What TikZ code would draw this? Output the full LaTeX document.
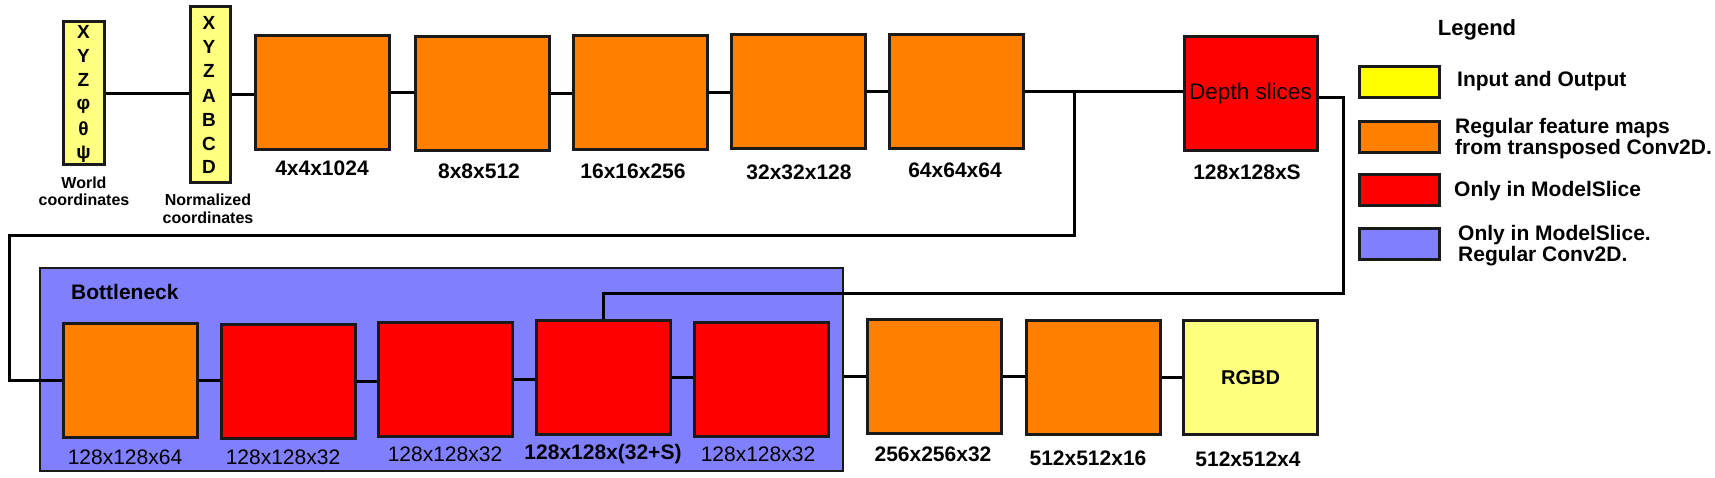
\documentclass[tikz,border=0pt]{standalone}
\usepackage{fontspec}
\setmainfont{Liberation Sans}
\definecolor{forange}{HTML}{FF8000}
\definecolor{fred}{HTML}{FF0000}
\definecolor{fyellow}{HTML}{FFFF80}
\definecolor{lyellow}{HTML}{FFFF00}
\definecolor{fblue}{HTML}{8080FF}
\definecolor{edge}{HTML}{1A1A1A}
\newcommand\fsz[1]{\fontsize{#1}{#1}\selectfont}
\begin{document}
\begin{tikzpicture}[x=1pt,y=-1pt,
  box/.style={draw=edge, line width=3pt, inner sep=0pt, minimum width=134pt, minimum height=114pt},
  conn/.style={draw=black, line width=3pt},
  lab/.style={inner sep=0pt, font=\fsz{21}\bfseries},
  labr/.style={inner sep=0pt, font=\fsz{21}},
  letter/.style={inner sep=0pt, anchor=base, font=\fsz{19}\bfseries},
  sw/.style={draw=edge, line width=3pt, inner sep=0pt, minimum width=80pt, minimum height=31pt},
  legtext/.style={anchor=west, align=left, inner sep=0pt, font=\fsz{21}\bfseries},
  small/.style={inner sep=0pt, align=center, font=\fontsize{16}{17}\selectfont\bfseries},
]
\useasboundingbox (0,0) rectangle (1715,478);

% ---------- top row ----------
\node[box, fill=fyellow, minimum width=41pt, minimum height=143pt] (world) at (83.5,93.5) {};
\node[letter] (w1) at (83.5,39) {X};
\node[letter] (w2) at (83.5,63) {Y};
\node[letter] (w3) at (83.5,87) {Z};
\node[letter] (w4) at (83.5,110) {φ};
\node[letter] (w5) at (83.5,136) {θ};
\node[letter] (w6) at (83.5,159) {ψ};

\node[box, fill=fyellow, minimum width=40pt, minimum height=176pt] (norm) at (210,95) {};
\node[letter] (n1) at (209,30) {X};
\node[letter] (n2) at (209,54) {Y};
\node[letter] (n3) at (209,78) {Z};
\node[letter] (n4) at (209,103) {A};
\node[letter] (n5) at (209,127) {B};
\node[letter] (n6) at (209,151) {C};
\node[letter] (n7) at (209,174) {D};

\node[small] (worldlab) at (84,191) {World\\coordinates};
\node[small, font=\fontsize{16}{18}\selectfont\bfseries] (normlab) at (208,209) {Normalized\\coordinates};

\node[box, fill=forange] (b1) at (322.5,92.5) {};
\node[box, fill=forange] (b2) at (482.5,93.5) {};
\node[box, fill=forange] (b3) at (640.5,92.5) {};
\node[box, fill=forange] (b4) at (798.5,92) {};
\node[box, fill=forange] (b5) at (956.5,92) {};
\node[box, fill=fred, minimum width=133pt, font=\fsz{22.5}] (depth) at (1250.5,94) {Depth slices};

\node[lab] (l1) at (322,168) {4x4x1024};
\node[lab] (l2) at (479,171) {8x8x512};
\node[lab] (l3) at (633,171) {16x16x256};
\node[lab] (l4) at (799,172) {32x32x128};
\node[lab] (l5) at (955,170) {64x64x64};
\node[lab] (l6) at (1247,172) {128x128xS};

% ---------- bottleneck ----------
\node[draw=edge, line width=2.5pt, fill=fblue, inner sep=0pt,
      minimum width=803pt, minimum height=203pt] (bneck) at (441.5,369.5) {};
\node[anchor=west, inner sep=0pt, font=\fsz{21}\bfseries] (bnlab) at (71,292) {Bottleneck};

\node[box, fill=forange] (bb1) at (130.5,380.5) {};
\node[box, fill=fred] (bb2) at (288,381) {};
\node[box, fill=fred] (bb3) at (445,379.5) {};
\node[box, fill=fred] (bb4) at (603,377.5) {};
\node[box, fill=fred] (bb5) at (761,379) {};
\node[box, fill=forange] (o1) at (934.5,376) {};
\node[box, fill=forange] (o2) at (1093.5,377.5) {};
\node[box, fill=fyellow, font=\fsz{20}\bfseries] (rgbd) at (1250.5,377.5) {RGBD};

\node[labr] (m1) at (125,457) {128x128x64};
\node[labr] (m2) at (283,457) {128x128x32};
\node[labr] (m3) at (445,454) {128x128x32};
\node[lab]  (m4) at (603,454) {128x128x(32+S)};
\node[labr] (m5) at (758,454) {128x128x32};
\node[lab]  (m6) at (933,454) {256x256x32};
\node[lab]  (m7) at (1088,458) {512x512x16};
\node[lab]  (m8) at (1248,459) {512x512x4};

% ---------- connectors ----------
\coordinate (j1) at (1074,93);
\coordinate (turnA) at (9,236);
\coordinate (turnB) at (1343,293);

\draw[conn] (world.east) -- (world.east -| norm.west);
\draw[conn] (norm.east) -- (norm.east -| b1.west);
\draw[conn] (b1.east) -- (b1.east -| b2.west);
\draw[conn] (b2.east) -- (b2.east -| b3.west);
\draw[conn] (b3.east) -- (b3.east -| b4.west);
\draw[conn] (b4.east) -- (b4.east -| b5.west);
\draw[conn] (b5.east) -- (b5.east -| depth.west);
\draw[conn] (j1) |- (turnA) |- (bb1.west);
\draw[conn] ([yshift=-4pt]depth.east) -| (turnB) -| (bb4.north);

\draw[conn] (bb1.east) -- (bb1.east -| bb2.west);
\draw[conn] (bb2.east) -- (bb2.east -| bb3.west);
\draw[conn] (bb3.east) -- (bb3.east -| bb4.west);
\draw[conn] (bb4.east) -- (bb4.east -| bb5.west);
\draw[conn] (o1.west -| bneck.east) -- (o1.west);
\draw[conn] (o1.east) -- (o1.east -| o2.west);
\draw[conn] (o2.east) -- (o2.east -| rgbd.west);

% ---------- legend ----------
\node[inner sep=0pt, font=\fsz{22}\bfseries] (legtitle) at (1477,30) {Legend};
\node[sw, fill=lyellow] (s1) at (1399.5,82) {};
\node[sw, fill=forange] (s2) at (1399.5,137) {};
\node[sw, fill=fred] (s3) at (1399.5,190.5) {};
\node[sw, fill=fblue] (s4) at (1399.5,244) {};
\node[legtext] (t1) at (1457,81) {Input and Output};
\node[legtext] (t2) at (1455,139) {Regular feature maps\\from transposed Conv2D.};
\node[legtext] (t3) at (1454,191) {Only in ModelSlice};
\node[legtext] (t4) at (1458,246) {Only in ModelSlice.\\Regular Conv2D.};
\end{tikzpicture}
\end{document}
